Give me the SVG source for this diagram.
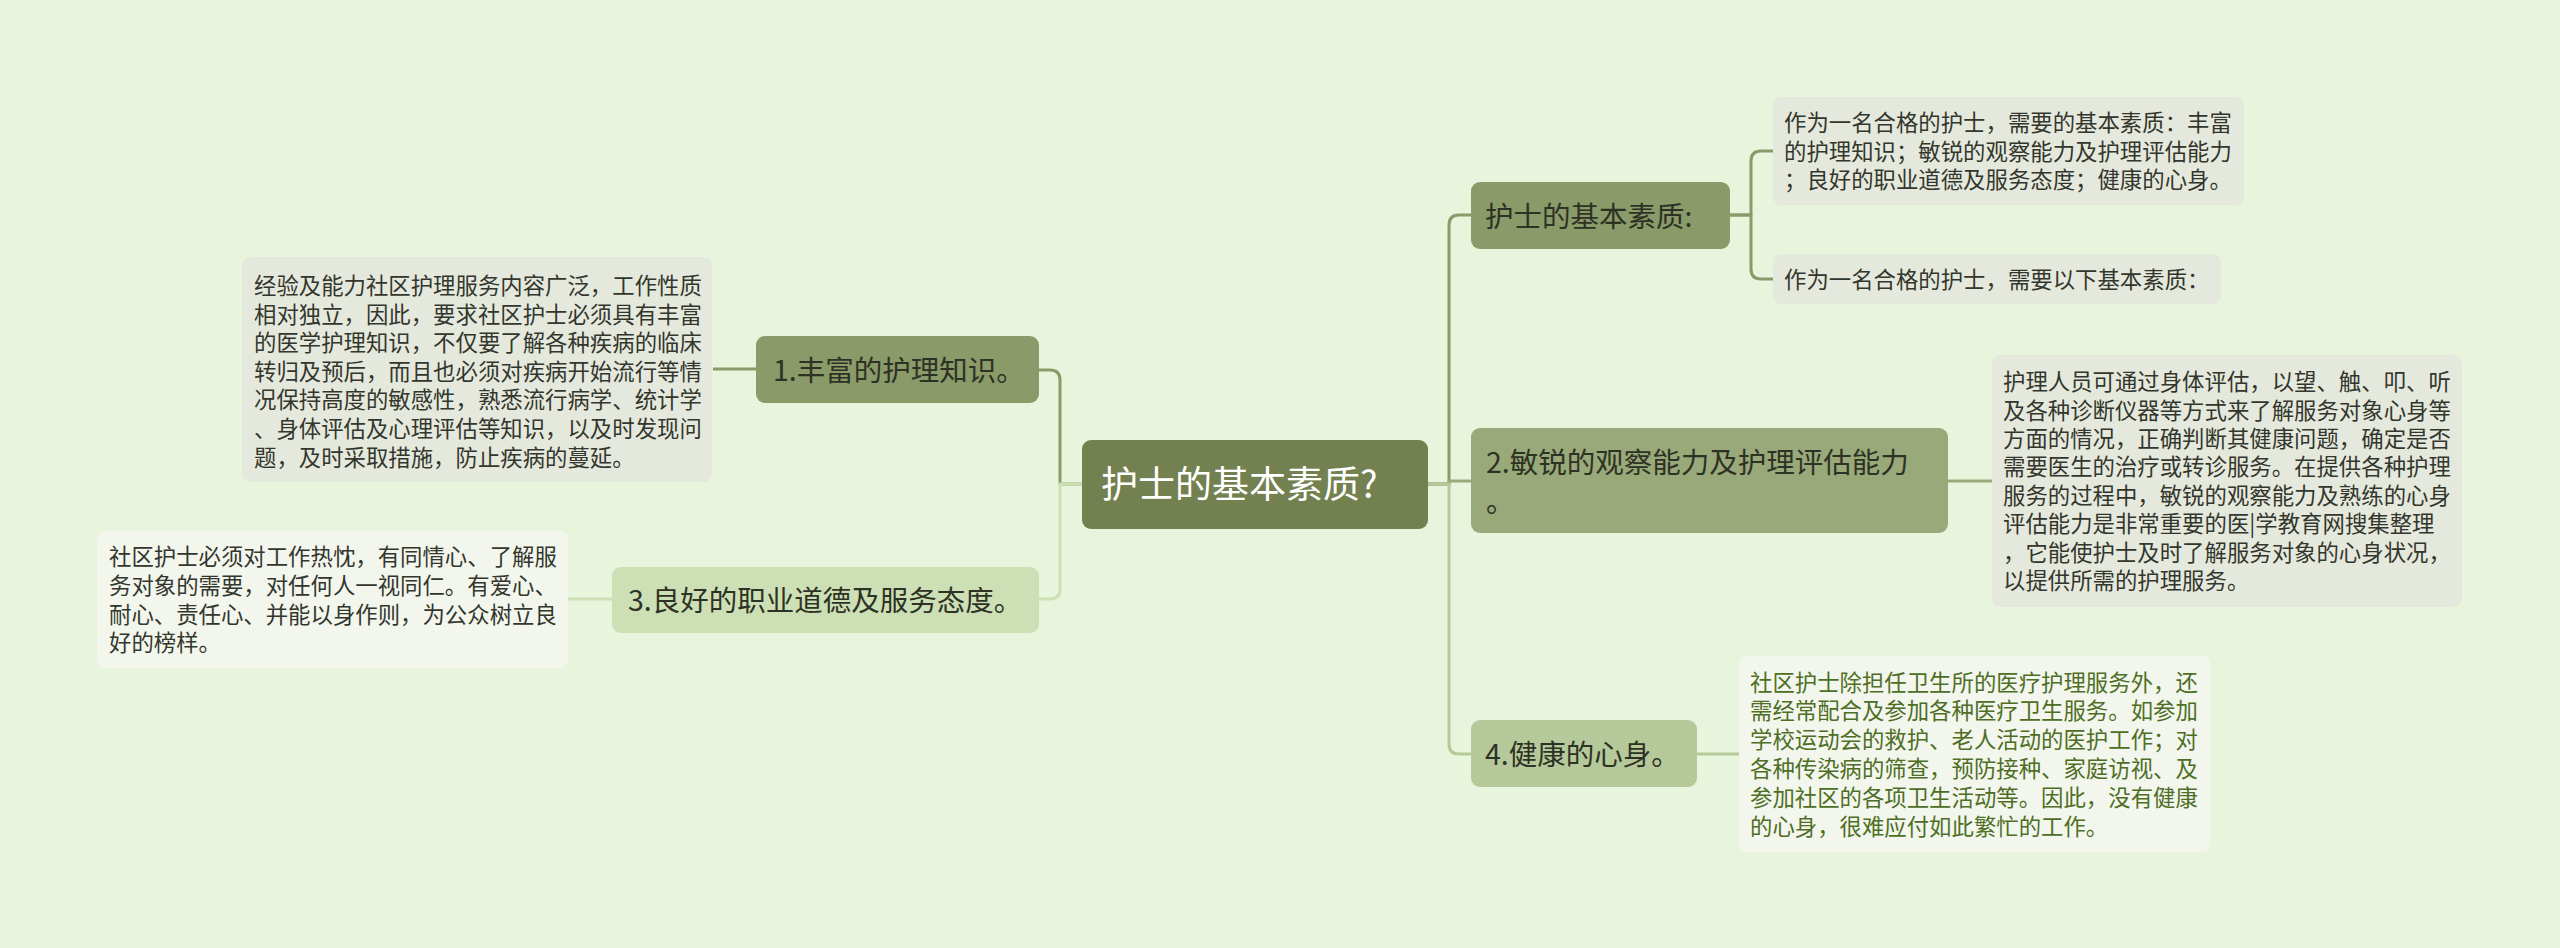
<svg xmlns="http://www.w3.org/2000/svg" width="2560" height="948" viewBox="0 0 2560 948">
<style>
  .bg{fill:#e8f5dc}
  .root{fill:#72814f}
  .n1{fill:#8a9a69}
  .n2{fill:#99a979}
  .n3{fill:#cde0b5}
  .n4{fill:#b6c99b}
  .tb{fill:#e5e9dd}
  .tw{fill:#f2f6ed}
  text{font-family:"Noto Sans CJK SC","Noto Sans",sans-serif}
  .rt{font-size:37px;fill:#ffffff}
  .nt{font-size:28.5px;fill:#2e3224}
  .bt{font-size:22.4px;fill:#33362c}
  .gt{font-size:22.4px;fill:#4e6e25}
  .c{fill:none;stroke-width:3;stroke-linejoin:round}
  .c1{stroke:#8a9a69}
  .c2{stroke:#99a979}
  .c3{stroke:#cde0b5}
  .c4{stroke:#b6c99b}
</style>
<rect class="bg" x="0" y="0" width="2560" height="948"/>

<g id="connectors">
  <path class="c c1" d="M1082,484 H1060 V380 Q1060,370 1050,370 H1039"/>
  <path class="c c3" d="M1082,484 H1060 V589 Q1060,599 1050,599 H1039"/>
  <path class="c c1" d="M1428,484 H1449 V225 Q1449,215 1459,215 H1471"/>
  <path class="c c2" d="M1428,484 H1449 V481 H1471"/>
  <path class="c c4" d="M1428,484 H1449 V744 Q1449,754 1459,754 H1471"/>
  <path class="c c1" d="M1730,215 H1751 V161 Q1751,151 1761,151 H1773"/>
  <path class="c c1" d="M1730,215 H1751 V269 Q1751,279 1761,279 H1773"/>
  <path class="c c1" d="M756,369 H713"/>
  <path class="c c3" d="M612,599 H568"/>
  <path class="c c2" d="M1948,481 H1992"/>
  <path class="c c4" d="M1697,754 H1739"/>
</g>

<g id="root">
  <rect class="root" x="1082" y="440" width="346" height="89" rx="9"/>
  <text class="rt" x="1101" y="498">护士的基本素质?</text>
</g>

<g id="nodeA">
  <rect class="n1" x="1471" y="182" width="259" height="67" rx="9"/>
  <text class="nt" x="1485" y="227">护士的基本素质:</text>
</g>

<g id="boxA1">
  <rect class="tb" x="1773" y="97" width="471" height="108" rx="8"/>
  <text class="bt" x="1784" y="131">作为一名合格的护士，需要的基本素质：丰富</text>
  <text class="bt" x="1784" y="159.6">的护理知识；敏锐的观察能力及护理评估能力</text>
  <text class="bt" x="1784" y="188.2">；良好的职业道德及服务态度；健康的心身。</text>
</g>

<g id="boxA2">
  <rect class="tb" x="1773" y="254" width="448" height="50" rx="8"/>
  <text class="bt" x="1784" y="287.5">作为一名合格的护士，需要以下基本素质：</text>
</g>

<g id="node2">
  <rect class="n2" x="1471" y="428" width="477" height="105" rx="9"/>
  <text class="nt" x="1486" y="473">2.敏锐的观察能力及护理评估能力</text>
  <text class="nt" x="1486" y="512">。</text>
</g>

<g id="boxB">
  <rect class="tb" x="1992" y="355" width="470" height="252" rx="8"/>
  <text class="bt" x="2003" y="390.1">护理人员可通过身体评估，以望、触、叩、听</text>
  <text class="bt" x="2003" y="418.5">及各种诊断仪器等方式来了解服务对象心身等</text>
  <text class="bt" x="2003" y="446.9">方面的情况，正确判断其健康问题，确定是否</text>
  <text class="bt" x="2003" y="475.3">需要医生的治疗或转诊服务。在提供各种护理</text>
  <text class="bt" x="2003" y="503.7">服务的过程中，敏锐的观察能力及熟练的心身</text>
  <text class="bt" x="2003" y="532.1">评估能力是非常重要的医|学教育网搜集整理</text>
  <text class="bt" x="2003" y="560.5">，它能使护士及时了解服务对象的心身状况，</text>
  <text class="bt" x="2003" y="588.9">以提供所需的护理服务。</text>
</g>

<g id="node4">
  <rect class="n4" x="1471" y="720" width="226" height="67" rx="9"/>
  <text class="nt" x="1485" y="765">4.健康的心身。</text>
</g>

<g id="boxD">
  <rect class="tw" x="1739" y="656" width="471" height="196" rx="8"/>
  <text class="gt" x="1750" y="690.5">社区护士除担任卫生所的医疗护理服务外，还</text>
  <text class="gt" x="1750" y="719.3">需经常配合及参加各种医疗卫生服务。如参加</text>
  <text class="gt" x="1750" y="748.1">学校运动会的救护、老人活动的医护工作；对</text>
  <text class="gt" x="1750" y="776.9">各种传染病的筛查，预防接种、家庭访视、及</text>
  <text class="gt" x="1750" y="805.7">参加社区的各项卫生活动等。因此，没有健康</text>
  <text class="gt" x="1750" y="834.5">的心身，很难应付如此繁忙的工作。</text>
</g>

<g id="node1">
  <rect class="n1" x="756" y="336" width="283" height="67" rx="9"/>
  <text class="nt" x="773" y="381">1.丰富的护理知识。</text>
</g>

<g id="box1">
  <rect class="tb" x="242" y="257" width="470" height="225" rx="8"/>
  <text class="bt" x="254" y="294">经验及能力社区护理服务内容广泛，工作性质</text>
  <text class="bt" x="254" y="322.6">相对独立，因此，要求社区护士必须具有丰富</text>
  <text class="bt" x="254" y="351.2">的医学护理知识，不仅要了解各种疾病的临床</text>
  <text class="bt" x="254" y="379.8">转归及预后，而且也必须对疾病开始流行等情</text>
  <text class="bt" x="254" y="408.4">况保持高度的敏感性，熟悉流行病学、统计学</text>
  <text class="bt" x="254" y="437">、身体评估及心理评估等知识，以及时发现问</text>
  <text class="bt" x="254" y="465.6">题，及时采取措施，防止疾病的蔓延。</text>
</g>

<g id="node3">
  <rect class="n3" x="612" y="567" width="427" height="66" rx="9"/>
  <text class="nt" x="628" y="611">3.良好的职业道德及服务态度。</text>
</g>

<g id="box3">
  <rect class="tw" x="97" y="531" width="471" height="137" rx="8"/>
  <text class="bt" x="109" y="565">社区护士必须对工作热忱，有同情心、了解服</text>
  <text class="bt" x="109" y="593.8">务对象的需要，对任何人一视同仁。有爱心、</text>
  <text class="bt" x="109" y="622.6">耐心、责任心、并能以身作则，为公众树立良</text>
  <text class="bt" x="109" y="651.4">好的榜样。</text>
</g>
</svg>
